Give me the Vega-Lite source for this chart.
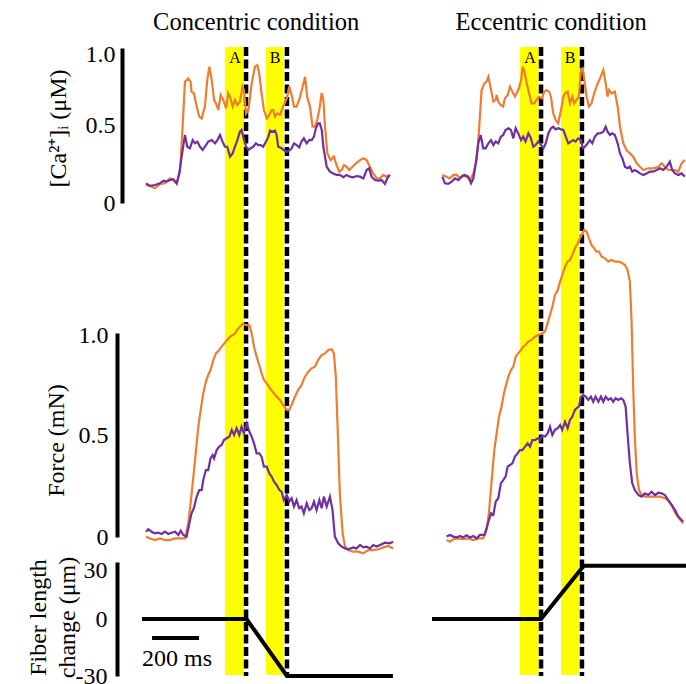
{
"$schema":"https://vega.github.io/schema/vega-lite/v6.json",
"width":686,"height":684,"autosize":"none","padding":0,"background":"white",
"config":{"view":{"stroke":null},
"axis":{"domainWidth":4,"domainColor":"black","ticks":false,"tickSize":0,"grid":false,"labelFont":"Liberation Serif","labelFontSize":24,"labelColor":"black","labelOverlap":false,"titleFont":"Liberation Serif","titleFontSize":24,"titleFontWeight":"normal","titleColor":"black","titleAngle":-90,"titleAlign":"center","titleBaseline":"middle"}},
"resolve":{"scale":{"x":"independent","y":"independent"},"axis":{"x":"independent","y":"independent"}},
"datasets":{
"bands":[{"band":"A","start":340,"end":426},{"band":"B","start":515,"end":591}],
"markers":[{"t":430},{"t":604}],
"fiberConc":[{"t":-13,"v":0},{"t":432,"v":0},{"t":604,"v":-30},{"t":1055,"v":-30}],
"fiberEcc":[{"t":-34,"v":0},{"t":430,"v":0},{"t":612,"v":28},{"t":1047,"v":28}],
"caConc":[
{"trace":"1","t":4,"v":0.116},{"trace":"1","t":21,"v":0.110},{"trace":"1","t":42,"v":0.095},{"trace":"1","t":64,"v":0.123},{"trace":"1","t":85,"v":0.127},{"trace":"1","t":106,"v":0.159},{"trace":"1","t":120,"v":0.148},{"trace":"1","t":135,"v":0.123},{"trace":"1","t":149,"v":0.213},{"trace":"1","t":160,"v":0.492},{"trace":"1","t":170,"v":0.783},{"trace":"1","t":184,"v":0.804},{"trace":"1","t":194,"v":0.783},{"trace":"1","t":198,"v":0.718},{"trace":"1","t":208,"v":0.708},{"trace":"1","t":220,"v":0.622},{"trace":"1","t":231,"v":0.557},{"trace":"1","t":241,"v":0.546},{"trace":"1","t":255,"v":0.622},{"trace":"1","t":265,"v":0.794},{"trace":"1","t":274,"v":0.880},{"trace":"1","t":284,"v":0.794},{"trace":"1","t":294,"v":0.665},{"trace":"1","t":302,"v":0.643},{"trace":"1","t":312,"v":0.600},{"trace":"1","t":322,"v":0.697},{"trace":"1","t":333,"v":0.665},{"trace":"1","t":345,"v":0.611},{"trace":"1","t":354,"v":0.708},{"trace":"1","t":362,"v":0.686},{"trace":"1","t":373,"v":0.622},{"trace":"1","t":383,"v":0.665},{"trace":"1","t":393,"v":0.632},{"trace":"1","t":404,"v":0.654},{"trace":"1","t":415,"v":0.751},{"trace":"1","t":421,"v":0.729},{"trace":"1","t":430,"v":0.578},{"trace":"1","t":440,"v":0.600},{"trace":"1","t":454,"v":0.772},{"trace":"1","t":468,"v":0.880},{"trace":"1","t":478,"v":0.890},{"trace":"1","t":486,"v":0.837},{"trace":"1","t":496,"v":0.708},{"trace":"1","t":506,"v":0.600},{"trace":"1","t":518,"v":0.546},{"trace":"1","t":529,"v":0.568},{"trace":"1","t":539,"v":0.600},{"trace":"1","t":546,"v":0.600},{"trace":"1","t":553,"v":0.557},{"trace":"1","t":563,"v":0.578},{"trace":"1","t":574,"v":0.568},{"trace":"1","t":588,"v":0.622},{"trace":"1","t":603,"v":0.675},{"trace":"1","t":614,"v":0.751},{"trace":"1","t":624,"v":0.697},{"trace":"1","t":634,"v":0.622},{"trace":"1","t":645,"v":0.622},{"trace":"1","t":656,"v":0.665},{"trace":"1","t":671,"v":0.751},{"trace":"1","t":681,"v":0.815},{"trace":"1","t":690,"v":0.686},{"trace":"1","t":702,"v":0.622},{"trace":"1","t":713,"v":0.492},{"trace":"1","t":723,"v":0.492},{"trace":"1","t":733,"v":0.535},{"trace":"1","t":744,"v":0.622},{"trace":"1","t":752,"v":0.708},{"trace":"1","t":759,"v":0.665},{"trace":"1","t":766,"v":0.492},{"trace":"1","t":776,"v":0.320},{"trace":"1","t":790,"v":0.277},{"trace":"1","t":804,"v":0.299},{"trace":"1","t":815,"v":0.245},{"trace":"1","t":827,"v":0.202},{"trace":"1","t":837,"v":0.213},{"trace":"1","t":847,"v":0.245},{"trace":"1","t":858,"v":0.234},{"trace":"1","t":869,"v":0.213},{"trace":"1","t":883,"v":0.234},{"trace":"1","t":898,"v":0.256},{"trace":"1","t":915,"v":0.277},{"trace":"1","t":929,"v":0.288},{"trace":"1","t":943,"v":0.277},{"trace":"1","t":957,"v":0.234},{"trace":"1","t":971,"v":0.191},{"trace":"1","t":986,"v":0.159},{"trace":"1","t":1000,"v":0.159},{"trace":"1","t":1014,"v":0.181},{"trace":"1","t":1028,"v":0.170},{"trace":"1","t":1042,"v":0.181},
{"trace":"2","t":4,"v":0.127},{"trace":"2","t":21,"v":0.110},{"trace":"2","t":42,"v":0.116},{"trace":"2","t":64,"v":0.127},{"trace":"2","t":78,"v":0.144},{"trace":"2","t":92,"v":0.138},{"trace":"2","t":106,"v":0.148},{"trace":"2","t":120,"v":0.153},{"trace":"2","t":135,"v":0.127},{"trace":"2","t":146,"v":0.191},{"trace":"2","t":156,"v":0.299},{"trace":"2","t":170,"v":0.439},{"trace":"2","t":180,"v":0.363},{"trace":"2","t":191,"v":0.353},{"trace":"2","t":203,"v":0.406},{"trace":"2","t":213,"v":0.385},{"trace":"2","t":223,"v":0.396},{"trace":"2","t":234,"v":0.363},{"trace":"2","t":245,"v":0.342},{"trace":"2","t":255,"v":0.363},{"trace":"2","t":269,"v":0.396},{"trace":"2","t":284,"v":0.406},{"trace":"2","t":298,"v":0.385},{"trace":"2","t":308,"v":0.406},{"trace":"2","t":319,"v":0.439},{"trace":"2","t":330,"v":0.396},{"trace":"2","t":340,"v":0.363},{"trace":"2","t":350,"v":0.363},{"trace":"2","t":362,"v":0.299},{"trace":"2","t":373,"v":0.320},{"trace":"2","t":383,"v":0.363},{"trace":"2","t":393,"v":0.406},{"trace":"2","t":404,"v":0.460},{"trace":"2","t":411,"v":0.471},{"trace":"2","t":418,"v":0.428},{"trace":"2","t":430,"v":0.363},{"trace":"2","t":440,"v":0.342},{"trace":"2","t":450,"v":0.353},{"trace":"2","t":461,"v":0.363},{"trace":"2","t":472,"v":0.385},{"trace":"2","t":482,"v":0.374},{"trace":"2","t":492,"v":0.374},{"trace":"2","t":503,"v":0.363},{"trace":"2","t":515,"v":0.396},{"trace":"2","t":525,"v":0.428},{"trace":"2","t":532,"v":0.467},{"trace":"2","t":543,"v":0.460},{"trace":"2","t":553,"v":0.467},{"trace":"2","t":560,"v":0.439},{"trace":"2","t":567,"v":0.363},{"trace":"2","t":581,"v":0.353},{"trace":"2","t":591,"v":0.342},{"trace":"2","t":603,"v":0.331},{"trace":"2","t":614,"v":0.338},{"trace":"2","t":624,"v":0.353},{"trace":"2","t":634,"v":0.385},{"trace":"2","t":645,"v":0.374},{"trace":"2","t":656,"v":0.359},{"trace":"2","t":666,"v":0.396},{"trace":"2","t":676,"v":0.417},{"trace":"2","t":688,"v":0.385},{"trace":"2","t":699,"v":0.406},{"trace":"2","t":709,"v":0.406},{"trace":"2","t":719,"v":0.428},{"trace":"2","t":727,"v":0.482},{"trace":"2","t":737,"v":0.514},{"trace":"2","t":744,"v":0.514},{"trace":"2","t":752,"v":0.471},{"trace":"2","t":759,"v":0.363},{"trace":"2","t":773,"v":0.234},{"trace":"2","t":787,"v":0.202},{"trace":"2","t":801,"v":0.191},{"trace":"2","t":815,"v":0.181},{"trace":"2","t":829,"v":0.181},{"trace":"2","t":844,"v":0.166},{"trace":"2","t":858,"v":0.181},{"trace":"2","t":872,"v":0.170},{"trace":"2","t":886,"v":0.166},{"trace":"2","t":900,"v":0.174},{"trace":"2","t":915,"v":0.170},{"trace":"2","t":929,"v":0.159},{"trace":"2","t":943,"v":0.213},{"trace":"2","t":954,"v":0.224},{"trace":"2","t":964,"v":0.170},{"trace":"2","t":978,"v":0.148},{"trace":"2","t":993,"v":0.144},{"trace":"2","t":1007,"v":0.148},{"trace":"2","t":1021,"v":0.123},{"trace":"2","t":1031,"v":0.159},{"trace":"2","t":1042,"v":0.181}],
"caEcc":[
{"trace":"1","t":10,"v":0.181},{"trace":"1","t":28,"v":0.170},{"trace":"1","t":42,"v":0.159},{"trace":"1","t":57,"v":0.181},{"trace":"1","t":71,"v":0.181},{"trace":"1","t":85,"v":0.159},{"trace":"1","t":99,"v":0.181},{"trace":"1","t":113,"v":0.170},{"trace":"1","t":128,"v":0.148},{"trace":"1","t":142,"v":0.191},{"trace":"1","t":156,"v":0.277},{"trace":"1","t":167,"v":0.492},{"trace":"1","t":177,"v":0.729},{"trace":"1","t":189,"v":0.772},{"trace":"1","t":198,"v":0.783},{"trace":"1","t":206,"v":0.815},{"trace":"1","t":213,"v":0.761},{"trace":"1","t":220,"v":0.708},{"trace":"1","t":227,"v":0.654},{"trace":"1","t":237,"v":0.665},{"trace":"1","t":241,"v":0.697},{"trace":"1","t":248,"v":0.654},{"trace":"1","t":258,"v":0.632},{"trace":"1","t":269,"v":0.622},{"trace":"1","t":276,"v":0.675},{"trace":"1","t":288,"v":0.697},{"trace":"1","t":298,"v":0.751},{"trace":"1","t":308,"v":0.718},{"trace":"1","t":319,"v":0.686},{"trace":"1","t":326,"v":0.708},{"trace":"1","t":336,"v":0.740},{"trace":"1","t":345,"v":0.794},{"trace":"1","t":352,"v":0.880},{"trace":"1","t":359,"v":0.847},{"trace":"1","t":369,"v":0.772},{"trace":"1","t":379,"v":0.708},{"trace":"1","t":390,"v":0.643},{"trace":"1","t":401,"v":0.643},{"trace":"1","t":411,"v":0.665},{"trace":"1","t":421,"v":0.686},{"trace":"1","t":433,"v":0.675},{"trace":"1","t":444,"v":0.718},{"trace":"1","t":454,"v":0.729},{"trace":"1","t":464,"v":0.718},{"trace":"1","t":472,"v":0.686},{"trace":"1","t":482,"v":0.578},{"trace":"1","t":492,"v":0.535},{"trace":"1","t":503,"v":0.514},{"trace":"1","t":515,"v":0.600},{"trace":"1","t":525,"v":0.686},{"trace":"1","t":532,"v":0.708},{"trace":"1","t":543,"v":0.718},{"trace":"1","t":553,"v":0.643},{"trace":"1","t":563,"v":0.686},{"trace":"1","t":571,"v":0.643},{"trace":"1","t":581,"v":0.665},{"trace":"1","t":591,"v":0.686},{"trace":"1","t":600,"v":0.858},{"trace":"1","t":607,"v":0.869},{"trace":"1","t":614,"v":0.794},{"trace":"1","t":624,"v":0.686},{"trace":"1","t":634,"v":0.622},{"trace":"1","t":645,"v":0.643},{"trace":"1","t":656,"v":0.708},{"trace":"1","t":671,"v":0.772},{"trace":"1","t":681,"v":0.804},{"trace":"1","t":695,"v":0.858},{"trace":"1","t":705,"v":0.772},{"trace":"1","t":713,"v":0.686},{"trace":"1","t":719,"v":0.729},{"trace":"1","t":730,"v":0.708},{"trace":"1","t":744,"v":0.718},{"trace":"1","t":756,"v":0.622},{"trace":"1","t":766,"v":0.492},{"trace":"1","t":780,"v":0.385},{"trace":"1","t":794,"v":0.342},{"trace":"1","t":808,"v":0.320},{"trace":"1","t":822,"v":0.299},{"trace":"1","t":837,"v":0.256},{"trace":"1","t":851,"v":0.234},{"trace":"1","t":865,"v":0.213},{"trace":"1","t":886,"v":0.224},{"trace":"1","t":907,"v":0.224},{"trace":"1","t":929,"v":0.234},{"trace":"1","t":943,"v":0.256},{"trace":"1","t":957,"v":0.234},{"trace":"1","t":971,"v":0.213},{"trace":"1","t":986,"v":0.213},{"trace":"1","t":1000,"v":0.213},{"trace":"1","t":1014,"v":0.202},{"trace":"1","t":1028,"v":0.256},{"trace":"1","t":1042,"v":0.277},
{"trace":"2","t":10,"v":0.170},{"trace":"2","t":21,"v":0.127},{"trace":"2","t":35,"v":0.123},{"trace":"2","t":50,"v":0.138},{"trace":"2","t":64,"v":0.159},{"trace":"2","t":78,"v":0.148},{"trace":"2","t":92,"v":0.170},{"trace":"2","t":106,"v":0.181},{"trace":"2","t":120,"v":0.170},{"trace":"2","t":132,"v":0.127},{"trace":"2","t":142,"v":0.159},{"trace":"2","t":152,"v":0.256},{"trace":"2","t":163,"v":0.385},{"trace":"2","t":173,"v":0.439},{"trace":"2","t":184,"v":0.353},{"trace":"2","t":194,"v":0.353},{"trace":"2","t":206,"v":0.385},{"trace":"2","t":217,"v":0.406},{"trace":"2","t":227,"v":0.374},{"trace":"2","t":237,"v":0.396},{"trace":"2","t":248,"v":0.385},{"trace":"2","t":259,"v":0.428},{"trace":"2","t":269,"v":0.439},{"trace":"2","t":279,"v":0.471},{"trace":"2","t":291,"v":0.482},{"trace":"2","t":302,"v":0.471},{"trace":"2","t":312,"v":0.417},{"trace":"2","t":322,"v":0.482},{"trace":"2","t":333,"v":0.449},{"trace":"2","t":345,"v":0.406},{"trace":"2","t":354,"v":0.428},{"trace":"2","t":364,"v":0.396},{"trace":"2","t":376,"v":0.449},{"trace":"2","t":387,"v":0.417},{"trace":"2","t":397,"v":0.363},{"trace":"2","t":407,"v":0.374},{"trace":"2","t":418,"v":0.396},{"trace":"2","t":430,"v":0.374},{"trace":"2","t":440,"v":0.353},{"trace":"2","t":450,"v":0.385},{"trace":"2","t":461,"v":0.449},{"trace":"2","t":472,"v":0.482},{"trace":"2","t":482,"v":0.492},{"trace":"2","t":492,"v":0.475},{"trace":"2","t":503,"v":0.482},{"trace":"2","t":515,"v":0.475},{"trace":"2","t":525,"v":0.471},{"trace":"2","t":535,"v":0.428},{"trace":"2","t":546,"v":0.385},{"trace":"2","t":557,"v":0.396},{"trace":"2","t":567,"v":0.406},{"trace":"2","t":577,"v":0.396},{"trace":"2","t":588,"v":0.417},{"trace":"2","t":600,"v":0.406},{"trace":"2","t":607,"v":0.353},{"trace":"2","t":617,"v":0.363},{"trace":"2","t":628,"v":0.385},{"trace":"2","t":638,"v":0.406},{"trace":"2","t":648,"v":0.385},{"trace":"2","t":659,"v":0.428},{"trace":"2","t":671,"v":0.449},{"trace":"2","t":681,"v":0.449},{"trace":"2","t":695,"v":0.460},{"trace":"2","t":705,"v":0.492},{"trace":"2","t":713,"v":0.460},{"trace":"2","t":723,"v":0.439},{"trace":"2","t":733,"v":0.449},{"trace":"2","t":744,"v":0.439},{"trace":"2","t":756,"v":0.385},{"trace":"2","t":766,"v":0.320},{"trace":"2","t":776,"v":0.288},{"trace":"2","t":787,"v":0.234},{"trace":"2","t":798,"v":0.224},{"trace":"2","t":808,"v":0.234},{"trace":"2","t":818,"v":0.202},{"trace":"2","t":829,"v":0.213},{"trace":"2","t":841,"v":0.202},{"trace":"2","t":851,"v":0.191},{"trace":"2","t":865,"v":0.181},{"trace":"2","t":879,"v":0.191},{"trace":"2","t":893,"v":0.202},{"trace":"2","t":907,"v":0.202},{"trace":"2","t":922,"v":0.213},{"trace":"2","t":936,"v":0.224},{"trace":"2","t":950,"v":0.213},{"trace":"2","t":964,"v":0.234},{"trace":"2","t":978,"v":0.267},{"trace":"2","t":988,"v":0.213},{"trace":"2","t":1000,"v":0.191},{"trace":"2","t":1014,"v":0.181},{"trace":"2","t":1028,"v":0.191},{"trace":"2","t":1042,"v":0.170}],
"forceConc":[
{"trace":"1","t":4,"v":0.002},{"trace":"1","t":21,"v":-0.007},{"trace":"1","t":42,"v":-0.015},{"trace":"1","t":64,"v":-0.007},{"trace":"1","t":85,"v":-0.015},{"trace":"1","t":106,"v":-0.015},{"trace":"1","t":128,"v":-0.007},{"trace":"1","t":149,"v":-0.007},{"trace":"1","t":170,"v":-0.007},{"trace":"1","t":184,"v":0.067},{"trace":"1","t":194,"v":0.165},{"trace":"1","t":206,"v":0.296},{"trace":"1","t":217,"v":0.426},{"trace":"1","t":227,"v":0.541},{"trace":"1","t":237,"v":0.623},{"trace":"1","t":248,"v":0.704},{"trace":"1","t":259,"v":0.761},{"trace":"1","t":269,"v":0.794},{"trace":"1","t":279,"v":0.819},{"trace":"1","t":291,"v":0.868},{"trace":"1","t":302,"v":0.900},{"trace":"1","t":316,"v":0.917},{"trace":"1","t":326,"v":0.933},{"trace":"1","t":340,"v":0.953},{"trace":"1","t":350,"v":0.966},{"trace":"1","t":362,"v":0.982},{"trace":"1","t":373,"v":0.990},{"trace":"1","t":383,"v":0.998},{"trace":"1","t":393,"v":1.015},{"trace":"1","t":404,"v":1.031},{"trace":"1","t":415,"v":1.044},{"trace":"1","t":430,"v":1.039},{"trace":"1","t":444,"v":1.039},{"trace":"1","t":454,"v":0.998},{"trace":"1","t":464,"v":0.933},{"trace":"1","t":475,"v":0.884},{"trace":"1","t":486,"v":0.843},{"trace":"1","t":496,"v":0.802},{"trace":"1","t":506,"v":0.770},{"trace":"1","t":518,"v":0.753},{"trace":"1","t":532,"v":0.729},{"trace":"1","t":546,"v":0.708},{"trace":"1","t":560,"v":0.688},{"trace":"1","t":574,"v":0.672},{"trace":"1","t":588,"v":0.647},{"trace":"1","t":603,"v":0.623},{"trace":"1","t":614,"v":0.623},{"trace":"1","t":624,"v":0.647},{"trace":"1","t":638,"v":0.688},{"trace":"1","t":652,"v":0.721},{"trace":"1","t":666,"v":0.745},{"trace":"1","t":681,"v":0.786},{"trace":"1","t":695,"v":0.810},{"trace":"1","t":709,"v":0.827},{"trace":"1","t":723,"v":0.835},{"trace":"1","t":737,"v":0.868},{"trace":"1","t":752,"v":0.892},{"trace":"1","t":766,"v":0.900},{"trace":"1","t":780,"v":0.917},{"trace":"1","t":794,"v":0.920},{"trace":"1","t":804,"v":0.900},{"trace":"1","t":812,"v":0.786},{"trace":"1","t":822,"v":0.459},{"trace":"1","t":829,"v":0.214},{"trace":"1","t":841,"v":0.018},{"trace":"1","t":851,"v":-0.047},{"trace":"1","t":865,"v":-0.064},{"trace":"1","t":886,"v":-0.072},{"trace":"1","t":907,"v":-0.072},{"trace":"1","t":929,"v":-0.080},{"trace":"1","t":950,"v":-0.064},{"trace":"1","t":971,"v":-0.064},{"trace":"1","t":993,"v":-0.060},{"trace":"1","t":1014,"v":-0.051},{"trace":"1","t":1035,"v":-0.044},{"trace":"1","t":1056,"v":-0.056},
{"trace":"2","t":4,"v":0.026},{"trace":"2","t":14,"v":0.038},{"trace":"2","t":28,"v":0.026},{"trace":"2","t":42,"v":0.018},{"trace":"2","t":57,"v":0.021},{"trace":"2","t":71,"v":0.015},{"trace":"2","t":85,"v":0.026},{"trace":"2","t":99,"v":0.015},{"trace":"2","t":113,"v":0.021},{"trace":"2","t":128,"v":0.026},{"trace":"2","t":142,"v":0.010},{"trace":"2","t":152,"v":0.031},{"trace":"2","t":163,"v":0.010},{"trace":"2","t":177,"v":0.002},{"trace":"2","t":189,"v":0.067},{"trace":"2","t":198,"v":0.116},{"trace":"2","t":208,"v":0.141},{"trace":"2","t":220,"v":0.198},{"trace":"2","t":231,"v":0.230},{"trace":"2","t":241,"v":0.230},{"trace":"2","t":248,"v":0.279},{"trace":"2","t":259,"v":0.328},{"trace":"2","t":269,"v":0.328},{"trace":"2","t":279,"v":0.386},{"trace":"2","t":288,"v":0.402},{"trace":"2","t":294,"v":0.386},{"trace":"2","t":305,"v":0.426},{"trace":"2","t":316,"v":0.443},{"trace":"2","t":326,"v":0.451},{"trace":"2","t":336,"v":0.475},{"trace":"2","t":347,"v":0.484},{"trace":"2","t":359,"v":0.492},{"trace":"2","t":369,"v":0.525},{"trace":"2","t":379,"v":0.500},{"trace":"2","t":390,"v":0.533},{"trace":"2","t":401,"v":0.500},{"trace":"2","t":411,"v":0.541},{"trace":"2","t":421,"v":0.508},{"trace":"2","t":433,"v":0.557},{"trace":"2","t":444,"v":0.516},{"trace":"2","t":454,"v":0.492},{"trace":"2","t":464,"v":0.459},{"trace":"2","t":475,"v":0.410},{"trace":"2","t":486,"v":0.410},{"trace":"2","t":496,"v":0.394},{"trace":"2","t":506,"v":0.345},{"trace":"2","t":518,"v":0.345},{"trace":"2","t":529,"v":0.312},{"trace":"2","t":539,"v":0.296},{"trace":"2","t":549,"v":0.271},{"trace":"2","t":560,"v":0.255},{"trace":"2","t":572,"v":0.230},{"trace":"2","t":581,"v":0.222},{"trace":"2","t":591,"v":0.181},{"trace":"2","t":603,"v":0.206},{"trace":"2","t":614,"v":0.173},{"trace":"2","t":624,"v":0.190},{"trace":"2","t":634,"v":0.149},{"trace":"2","t":645,"v":0.181},{"trace":"2","t":656,"v":0.141},{"trace":"2","t":666,"v":0.149},{"trace":"2","t":676,"v":0.116},{"trace":"2","t":688,"v":0.165},{"trace":"2","t":699,"v":0.132},{"trace":"2","t":709,"v":0.141},{"trace":"2","t":719,"v":0.173},{"trace":"2","t":730,"v":0.132},{"trace":"2","t":742,"v":0.181},{"trace":"2","t":752,"v":0.141},{"trace":"2","t":761,"v":0.198},{"trace":"2","t":773,"v":0.149},{"trace":"2","t":787,"v":0.198},{"trace":"2","t":798,"v":0.132},{"trace":"2","t":808,"v":0.002},{"trace":"2","t":822,"v":-0.031},{"trace":"2","t":837,"v":-0.047},{"trace":"2","t":851,"v":-0.056},{"trace":"2","t":865,"v":-0.060},{"trace":"2","t":886,"v":-0.051},{"trace":"2","t":900,"v":-0.056},{"trace":"2","t":915,"v":-0.039},{"trace":"2","t":929,"v":-0.051},{"trace":"2","t":943,"v":-0.047},{"trace":"2","t":957,"v":-0.056},{"trace":"2","t":971,"v":-0.039},{"trace":"2","t":986,"v":-0.047},{"trace":"2","t":1000,"v":-0.039},{"trace":"2","t":1021,"v":-0.028},{"trace":"2","t":1042,"v":-0.031},{"trace":"2","t":1056,"v":-0.023}],
"forceEcc":[
{"trace":"1","t":28,"v":-0.015},{"trace":"1","t":42,"v":-0.023},{"trace":"1","t":57,"v":-0.011},{"trace":"1","t":78,"v":-0.007},{"trace":"1","t":99,"v":-0.011},{"trace":"1","t":120,"v":-0.007},{"trace":"1","t":142,"v":-0.015},{"trace":"1","t":163,"v":-0.007},{"trace":"1","t":184,"v":-0.007},{"trace":"1","t":198,"v":0.034},{"trace":"1","t":208,"v":0.116},{"trace":"1","t":220,"v":0.279},{"trace":"1","t":231,"v":0.426},{"trace":"1","t":241,"v":0.508},{"trace":"1","t":251,"v":0.590},{"trace":"1","t":262,"v":0.639},{"trace":"1","t":272,"v":0.704},{"trace":"1","t":281,"v":0.745},{"trace":"1","t":291,"v":0.786},{"trace":"1","t":302,"v":0.819},{"trace":"1","t":312,"v":0.835},{"trace":"1","t":322,"v":0.884},{"trace":"1","t":333,"v":0.900},{"trace":"1","t":345,"v":0.917},{"trace":"1","t":354,"v":0.933},{"trace":"1","t":364,"v":0.941},{"trace":"1","t":376,"v":0.958},{"trace":"1","t":390,"v":0.966},{"trace":"1","t":404,"v":0.982},{"trace":"1","t":418,"v":0.990},{"trace":"1","t":433,"v":0.998},{"trace":"1","t":447,"v":1.007},{"trace":"1","t":458,"v":1.047},{"trace":"1","t":468,"v":1.088},{"trace":"1","t":478,"v":1.129},{"trace":"1","t":489,"v":1.186},{"trace":"1","t":501,"v":1.211},{"trace":"1","t":511,"v":1.252},{"trace":"1","t":520,"v":1.284},{"trace":"1","t":532,"v":1.325},{"trace":"1","t":543,"v":1.350},{"trace":"1","t":553,"v":1.358},{"trace":"1","t":563,"v":1.382},{"trace":"1","t":574,"v":1.415},{"trace":"1","t":586,"v":1.440},{"trace":"1","t":596,"v":1.464},{"trace":"1","t":603,"v":1.480},{"trace":"1","t":614,"v":1.505},{"trace":"1","t":624,"v":1.497},{"trace":"1","t":634,"v":1.464},{"trace":"1","t":645,"v":1.431},{"trace":"1","t":656,"v":1.415},{"trace":"1","t":666,"v":1.399},{"trace":"1","t":676,"v":1.399},{"trace":"1","t":688,"v":1.374},{"trace":"1","t":702,"v":1.366},{"trace":"1","t":716,"v":1.350},{"trace":"1","t":730,"v":1.358},{"trace":"1","t":744,"v":1.350},{"trace":"1","t":759,"v":1.350},{"trace":"1","t":773,"v":1.345},{"trace":"1","t":787,"v":1.333},{"trace":"1","t":798,"v":1.309},{"trace":"1","t":808,"v":1.252},{"trace":"1","t":815,"v":1.064},{"trace":"1","t":822,"v":0.737},{"trace":"1","t":829,"v":0.492},{"trace":"1","t":837,"v":0.312},{"trace":"1","t":847,"v":0.230},{"trace":"1","t":858,"v":0.206},{"trace":"1","t":872,"v":0.198},{"trace":"1","t":893,"v":0.198},{"trace":"1","t":915,"v":0.198},{"trace":"1","t":936,"v":0.198},{"trace":"1","t":957,"v":0.190},{"trace":"1","t":971,"v":0.181},{"trace":"1","t":988,"v":0.149},{"trace":"1","t":1002,"v":0.116},{"trace":"1","t":1017,"v":0.092},{"trace":"1","t":1035,"v":0.067},
{"trace":"2","t":28,"v":0.002},{"trace":"2","t":42,"v":0.010},{"trace":"2","t":57,"v":0.002},{"trace":"2","t":71,"v":-0.002},{"trace":"2","t":85,"v":0.005},{"trace":"2","t":99,"v":-0.002},{"trace":"2","t":113,"v":0.008},{"trace":"2","t":128,"v":-0.002},{"trace":"2","t":142,"v":0.005},{"trace":"2","t":156,"v":-0.007},{"trace":"2","t":170,"v":0.010},{"trace":"2","t":189,"v":0.010},{"trace":"2","t":198,"v":0.042},{"trace":"2","t":208,"v":0.083},{"trace":"2","t":217,"v":0.116},{"trace":"2","t":227,"v":0.108},{"trace":"2","t":237,"v":0.173},{"trace":"2","t":248,"v":0.190},{"trace":"2","t":259,"v":0.263},{"trace":"2","t":269,"v":0.279},{"trace":"2","t":279,"v":0.296},{"trace":"2","t":288,"v":0.345},{"trace":"2","t":298,"v":0.353},{"trace":"2","t":308,"v":0.361},{"trace":"2","t":319,"v":0.394},{"trace":"2","t":330,"v":0.410},{"trace":"2","t":340,"v":0.426},{"trace":"2","t":350,"v":0.426},{"trace":"2","t":362,"v":0.443},{"trace":"2","t":373,"v":0.459},{"trace":"2","t":383,"v":0.443},{"trace":"2","t":393,"v":0.475},{"trace":"2","t":404,"v":0.475},{"trace":"2","t":415,"v":0.484},{"trace":"2","t":425,"v":0.475},{"trace":"2","t":435,"v":0.495},{"trace":"2","t":447,"v":0.492},{"trace":"2","t":458,"v":0.508},{"trace":"2","t":468,"v":0.541},{"trace":"2","t":478,"v":0.500},{"trace":"2","t":489,"v":0.525},{"trace":"2","t":501,"v":0.533},{"trace":"2","t":511,"v":0.549},{"trace":"2","t":520,"v":0.525},{"trace":"2","t":532,"v":0.565},{"trace":"2","t":543,"v":0.533},{"trace":"2","t":553,"v":0.574},{"trace":"2","t":563,"v":0.590},{"trace":"2","t":574,"v":0.623},{"trace":"2","t":581,"v":0.631},{"trace":"2","t":591,"v":0.639},{"trace":"2","t":600,"v":0.688},{"trace":"2","t":610,"v":0.696},{"trace":"2","t":620,"v":0.688},{"trace":"2","t":631,"v":0.672},{"trace":"2","t":642,"v":0.688},{"trace":"2","t":652,"v":0.663},{"trace":"2","t":662,"v":0.688},{"trace":"2","t":674,"v":0.663},{"trace":"2","t":685,"v":0.688},{"trace":"2","t":695,"v":0.663},{"trace":"2","t":705,"v":0.688},{"trace":"2","t":716,"v":0.672},{"trace":"2","t":727,"v":0.680},{"trace":"2","t":737,"v":0.663},{"trace":"2","t":747,"v":0.680},{"trace":"2","t":759,"v":0.672},{"trace":"2","t":770,"v":0.680},{"trace":"2","t":780,"v":0.672},{"trace":"2","t":790,"v":0.639},{"trace":"2","t":798,"v":0.508},{"trace":"2","t":808,"v":0.361},{"trace":"2","t":818,"v":0.263},{"trace":"2","t":829,"v":0.230},{"trace":"2","t":844,"v":0.206},{"trace":"2","t":858,"v":0.198},{"trace":"2","t":872,"v":0.214},{"trace":"2","t":886,"v":0.206},{"trace":"2","t":900,"v":0.222},{"trace":"2","t":915,"v":0.206},{"trace":"2","t":929,"v":0.217},{"trace":"2","t":943,"v":0.214},{"trace":"2","t":957,"v":0.206},{"trace":"2","t":971,"v":0.181},{"trace":"2","t":986,"v":0.157},{"trace":"2","t":1000,"v":0.132},{"trace":"2","t":1014,"v":0.100},{"trace":"2","t":1035,"v":0.075}]
},
"layer":[
{"data":{"name":"bands"},"mark":{"type":"rect","color":"#FFFF00","cornerRadius":2},
 "encoding":{"x":{"field":"start","type":"quantitative","scale":{"domain":[0,1100],"range":[145,403.5],"nice":false,"zero":false},"axis":null},"x2":{"field":"end"},
 "y":{"datum":1.006,"type":"quantitative","scale":{"domain":[0,1],"range":[203,48],"nice":false,"zero":false},"axis":null},"y2":{"datum":-3.045}}},
{"data":{"name":"bands"},"mark":{"type":"rect","color":"#FFFF00","cornerRadius":2},
 "encoding":{"x":{"field":"start","type":"quantitative","scale":{"domain":[0,1100],"range":[440,698.5],"nice":false,"zero":false},"axis":null},"x2":{"field":"end"},
 "y":{"datum":1.006,"type":"quantitative","scale":{"domain":[0,1],"range":[203,48],"nice":false,"zero":false},"axis":null},"y2":{"datum":-3.045}}},
{"data":{"name":"markers"},"mark":{"type":"rule","color":"white","strokeWidth":4.5},
 "encoding":{"x":{"field":"t","type":"quantitative","scale":{"domain":[0,1100],"range":[145,403.5],"nice":false,"zero":false},"axis":null},
 "y":{"datum":1.006,"type":"quantitative","scale":{"domain":[0,1],"range":[203,48],"nice":false,"zero":false},"axis":null},"y2":{"datum":-3.052}}},
{"data":{"name":"markers"},"mark":{"type":"rule","color":"white","strokeWidth":4.5},
 "encoding":{"x":{"field":"t","type":"quantitative","scale":{"domain":[0,1100],"range":[440,698.5],"nice":false,"zero":false},"axis":null},
 "y":{"datum":1.006,"type":"quantitative","scale":{"domain":[0,1],"range":[203,48],"nice":false,"zero":false},"axis":null},"y2":{"datum":-3.052}}},
{"data":{"name":"markers"},"mark":{"type":"rule","color":"black","strokeWidth":4.5,"strokeDash":[9,3.5]},
 "encoding":{"x":{"field":"t","type":"quantitative","scale":{"domain":[0,1100],"range":[145,403.5],"nice":false,"zero":false},"axis":null},
 "y":{"datum":1.006,"type":"quantitative","scale":{"domain":[0,1],"range":[203,48],"nice":false,"zero":false},"axis":null},"y2":{"datum":-3.052}}},
{"data":{"name":"markers"},"mark":{"type":"rule","color":"black","strokeWidth":4.5,"strokeDash":[9,3.5]},
 "encoding":{"x":{"field":"t","type":"quantitative","scale":{"domain":[0,1100],"range":[440,698.5],"nice":false,"zero":false},"axis":null},
 "y":{"datum":1.006,"type":"quantitative","scale":{"domain":[0,1],"range":[203,48],"nice":false,"zero":false},"axis":null},"y2":{"datum":-3.052}}},
{"data":{"name":"caConc"},"mark":{"type":"line","strokeWidth":2.2},
 "encoding":{"x":{"field":"t","type":"quantitative","scale":{"domain":[0,1100],"range":[145,403.5],"nice":false,"zero":false},"axis":null},
 "y":{"field":"v","type":"quantitative","scale":{"domain":[0,1],"range":[203,48],"nice":false,"zero":false},
   "axis":{"orient":"left","offset":-122,"values":[0,0.5,1],"labelExpr":"datum.value == 0 ? '0' : format(datum.value, '.1f')","labelPadding":7,"labelOffset":{"condition":{"test":"datum.value === 1","value":6},"value":0},"title":"[Ca²⁺]ᵢ (μM)","titleX":-64,"titleY":128}},
 "color":{"field":"trace","type":"nominal","scale":{"domain":["1","2"],"range":["#ED7D31","#7030A0"]},"legend":null}}},
{"data":{"name":"caEcc"},"mark":{"type":"line","strokeWidth":2.2},
 "encoding":{"x":{"field":"t","type":"quantitative","scale":{"domain":[0,1100],"range":[440,698.5],"nice":false,"zero":false},"axis":null},
 "y":{"field":"v","type":"quantitative","scale":{"domain":[0,1],"range":[203,48],"nice":false,"zero":false},"axis":null},
 "color":{"field":"trace","type":"nominal","scale":{"domain":["1","2"],"range":["#ED7D31","#7030A0"]},"legend":null}}},
{"data":{"name":"forceConc"},"mark":{"type":"line","strokeWidth":2.2},
 "encoding":{"x":{"field":"t","type":"quantitative","scale":{"domain":[0,1100],"range":[145,403.5],"nice":false,"zero":false},"axis":null},
 "y":{"field":"v","type":"quantitative","scale":{"domain":[0,1],"range":[537,333],"nice":false,"zero":false},
   "axis":{"orient":"left","offset":-117,"values":[0,0.5,1],"labelExpr":"datum.value == 0 ? '0' : format(datum.value, '.1f')","labelPadding":9,"labelOffset":{"condition":{"test":"datum.value === 1","value":2},"value":0},"title":"Force (mN)","titleX":-61,"titleY":440}},
 "color":{"field":"trace","type":"nominal","scale":{"domain":["1","2"],"range":["#ED7D31","#7030A0"]},"legend":null}}},
{"data":{"name":"forceEcc"},"mark":{"type":"line","strokeWidth":2.2},
 "encoding":{"x":{"field":"t","type":"quantitative","scale":{"domain":[0,1100],"range":[440,698.5],"nice":false,"zero":false},"axis":null},
 "y":{"field":"v","type":"quantitative","scale":{"domain":[0,1],"range":[537,333],"nice":false,"zero":false},"axis":null},
 "color":{"field":"trace","type":"nominal","scale":{"domain":["1","2"],"range":["#ED7D31","#7030A0"]},"legend":null}}},
{"data":{"name":"fiberConc"},"mark":{"type":"line","strokeWidth":4,"color":"black"},
 "encoding":{"x":{"field":"t","type":"quantitative","scale":{"domain":[0,1100],"range":[145,403.5],"nice":false,"zero":false},"axis":null},
 "y":{"field":"v","type":"quantitative","scale":{"domain":[-30,30],"range":[676,562],"nice":false,"zero":false},
   "axis":{"orient":"left","offset":-117,"values":[-30,0,30],"labelExpr":"toString(datum.value)","labelPadding":10,"labelOffset":{"condition":{"test":"datum.value === 30","value":8},"value":0},"title":["Fiber length","change (μm)"],"titleX":-79,"titleY":617,"titleLineHeight":29}}}},
{"data":{"name":"fiberEcc"},"mark":{"type":"line","strokeWidth":4,"color":"black"},
 "encoding":{"x":{"field":"t","type":"quantitative","scale":{"domain":[0,1100],"range":[440,698.5],"nice":false,"zero":false},"axis":null},
 "y":{"field":"v","type":"quantitative","scale":{"domain":[-30,30],"range":[676,562],"nice":false,"zero":false},"axis":null}}},
{"data":{"name":"bands"},"transform":[{"calculate":"(datum.start + datum.end) / 2","as":"mid"}],
 "mark":{"type":"text","font":"Liberation Serif","fontSize":16,"color":"black","baseline":"middle","align":"center"},
 "encoding":{"x":{"field":"mid","type":"quantitative","scale":{"domain":[0,1100],"range":[145,403.5],"nice":false,"zero":false},"axis":null},
 "y":{"datum":0.935,"type":"quantitative","scale":{"domain":[0,1],"range":[203,48],"nice":false,"zero":false},"axis":null},"text":{"field":"band"}}},
{"data":{"name":"bands"},"transform":[{"calculate":"(datum.start + datum.end) / 2","as":"mid"}],
 "mark":{"type":"text","font":"Liberation Serif","fontSize":16,"color":"black","baseline":"middle","align":"center"},
 "encoding":{"x":{"field":"mid","type":"quantitative","scale":{"domain":[0,1100],"range":[440,698.5],"nice":false,"zero":false},"axis":null},
 "y":{"datum":0.935,"type":"quantitative","scale":{"domain":[0,1],"range":[203,48],"nice":false,"zero":false},"axis":null},"text":{"field":"band"}}},
{"data":{"values":[{"title":"Concentric condition"}]},
 "mark":{"type":"text","font":"Liberation Serif","fontSize":24.5,"color":"black","baseline":"middle","align":"center"},
 "encoding":{"x":{"datum":473,"type":"quantitative","scale":{"domain":[0,1100],"range":[145,403.5],"nice":false,"zero":false},"axis":null},
 "y":{"datum":1.16,"type":"quantitative","scale":{"domain":[0,1],"range":[203,48],"nice":false,"zero":false},"axis":null},"text":{"field":"title"}}},
{"data":{"values":[{"title":"Eccentric condition"}]},
 "mark":{"type":"text","font":"Liberation Serif","fontSize":24.5,"color":"black","baseline":"middle","align":"center"},
 "encoding":{"x":{"datum":473,"type":"quantitative","scale":{"domain":[0,1100],"range":[440,698.5],"nice":false,"zero":false},"axis":null},
 "y":{"datum":1.16,"type":"quantitative","scale":{"domain":[0,1],"range":[203,48],"nice":false,"zero":false},"axis":null},"text":{"field":"title"}}},
{"data":{"values":[{"label":"200 ms","start":30,"end":230}]},
 "mark":{"type":"rule","color":"black","strokeWidth":4},
 "encoding":{"x":{"field":"start","type":"quantitative","scale":{"domain":[0,1100],"range":[145,403.5],"nice":false,"zero":false},"axis":null},"x2":{"field":"end"},
 "y":{"datum":-10,"type":"quantitative","scale":{"domain":[-30,30],"range":[676,562],"nice":false,"zero":false},"axis":null}}},
{"data":{"values":[{"label":"200 ms"}]},
 "mark":{"type":"text","font":"Liberation Serif","fontSize":24,"color":"black","baseline":"alphabetic","align":"center"},
 "encoding":{"x":{"datum":136,"type":"quantitative","scale":{"domain":[0,1100],"range":[145,403.5],"nice":false,"zero":false},"axis":null},
 "y":{"datum":-24.5,"type":"quantitative","scale":{"domain":[-30,30],"range":[676,562],"nice":false,"zero":false},"axis":null},"text":{"field":"label"}}}
]
}
